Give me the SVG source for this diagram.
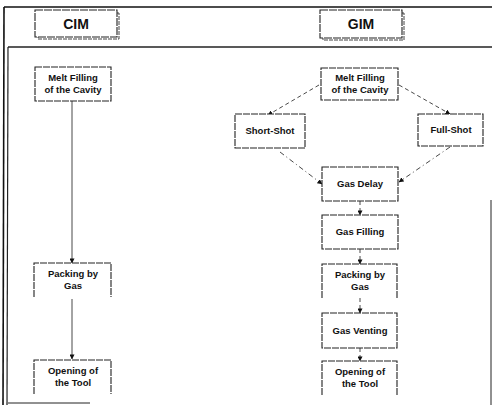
<svg xmlns="http://www.w3.org/2000/svg" width="492" height="405" viewBox="0 0 492 405">
<style>
.frame{fill:none;stroke:#111;stroke-width:1.6}
.thin{fill:none;stroke:#222;stroke-width:1}
.box{fill:#fff;stroke:#222;stroke-width:1.1;stroke-dasharray:7 1}
.hdr{fill:#fff;stroke:#222;stroke-width:1.1;stroke-dasharray:8 1}
.shadow{fill:none;stroke:#444;stroke-width:1;stroke-dasharray:4 1}
.t{font-family:"Liberation Sans",Arial,sans-serif;font-weight:bold;font-size:9.5px;fill:#111;text-anchor:middle}
.h{font-family:"Liberation Sans",Arial,sans-serif;font-weight:bold;font-size:14px;fill:#111;text-anchor:middle}
.c{fill:none;stroke:#333;stroke-width:0.9}
.d{fill:none;stroke:#333;stroke-width:0.9;stroke-dasharray:4 3}
.dd{fill:none;stroke:#333;stroke-width:0.9;stroke-dasharray:5 3 1 3}
</style>
<defs>
<marker id="ah" viewBox="0 0 6 6" refX="5.5" refY="3" markerWidth="5" markerHeight="5" orient="auto" markerUnits="userSpaceOnUse">
<path d="M0,0 L6,3 L0,6 z" fill="#111"/>
</marker>
</defs>
<rect width="492" height="405" fill="#fff"/>
<g id="frame">
<line class="frame" x1="4" y1="7" x2="492" y2="7"/>
<line class="frame" x1="4" y1="7" x2="3" y2="405"/>
<line class="thin" x1="8" y1="47" x2="492" y2="47" style="stroke-width:1.4"/>
<line class="thin" x1="8" y1="47" x2="7" y2="405" style="stroke-width:1.2"/>
<line class="thin" x1="8" y1="403" x2="90" y2="403"/>
<line class="thin" x1="491" y1="200" x2="491" y2="405"/>
</g>
<g id="cim-header">
<path class="shadow" d="M117,13 L119,13 L119,39 L38,39 L38,37"/>
<rect class="hdr" x="35" y="10" width="82" height="27"/>
<text class="h" x="76" y="29">CIM</text>
</g>
<g id="gim-header">
<path class="shadow" d="M402,13 L404,13 L404,40 L323,40 L323,38"/>
<rect class="hdr" x="320" y="10" width="82" height="28"/>
<text class="h" x="361" y="29">GIM</text>
</g>
<g id="connectors">
<line class="c" x1="72" y1="101" x2="72" y2="263" marker-end="url(#ah)"/>
<line class="c" x1="72" y1="299" x2="72" y2="359" marker-end="url(#ah)"/>
<line class="d" x1="319" y1="85" x2="268" y2="115" marker-end="url(#ah)"/>
<line class="d" x1="399" y1="85" x2="450" y2="114" marker-end="url(#ah)"/>
<line class="dd" x1="280" y1="152" x2="322" y2="184" marker-end="url(#ah)"/>
<line class="dd" x1="450" y1="147" x2="399" y2="182" marker-end="url(#ah)"/>
<line class="d" x1="360" y1="201" x2="360" y2="215" marker-end="url(#ah)"/>
<line class="d" x1="360" y1="249" x2="360" y2="264" marker-end="url(#ah)"/>
<line class="d" x1="360" y1="298" x2="360" y2="313" marker-end="url(#ah)"/>
<line class="d" x1="360" y1="348" x2="360" y2="361" marker-end="url(#ah)"/>
</g>
<g id="cim-melt">
<rect class="box" x="35" y="67" width="76" height="34"/>
<text class="t" x="73" y="81">Melt Filling</text>
<text class="t" x="73" y="93">of the Cavity</text>
</g>
<g id="cim-packing">
<path class="box" d="M34,297 L34,263 L111,263 L111,297"/>
<text class="t" x="73" y="277">Packing by</text>
<text class="t" x="73" y="289">Gas</text>
</g>
<g id="cim-opening">
<path class="box" d="M34,394 L34,360 L111,360 L111,394"/>
<text class="t" x="73" y="374">Opening of</text>
<text class="t" x="73" y="386">the Tool</text>
</g>
<g id="gim-melt">
<rect class="box" x="321" y="68" width="77" height="32"/>
<text class="t" x="360" y="81">Melt Filling</text>
<text class="t" x="360" y="93">of the Cavity</text>
</g>
<g id="short-shot">
<rect class="box" x="235" y="114" width="70" height="34"/>
<text class="t" x="270" y="134">Short-Shot</text>
</g>
<g id="full-shot">
<rect class="box" x="418" y="114" width="65" height="32"/>
<text class="t" x="451" y="133">Full-Shot</text>
</g>
<g id="gas-delay">
<rect class="box" x="322" y="167" width="76" height="34"/>
<text class="t" x="360" y="187">Gas Delay</text>
</g>
<g id="gas-filling">
<rect class="box" x="322" y="215" width="76" height="34"/>
<text class="t" x="360" y="235">Gas Filling</text>
</g>
<g id="gim-packing">
<path class="box" d="M322,298 L322,264 L397,264 L397,298"/>
<text class="t" x="360" y="278">Packing by</text>
<text class="t" x="360" y="290">Gas</text>
</g>
<g id="gas-venting">
<rect class="box" x="322" y="313" width="75" height="35"/>
<text class="t" x="360" y="334">Gas Venting</text>
</g>
<g id="gim-opening">
<path class="box" d="M322,395 L322,361 L397,361 L397,395"/>
<text class="t" x="360" y="375">Opening of</text>
<text class="t" x="360" y="387">the Tool</text>
</g>
</svg>
